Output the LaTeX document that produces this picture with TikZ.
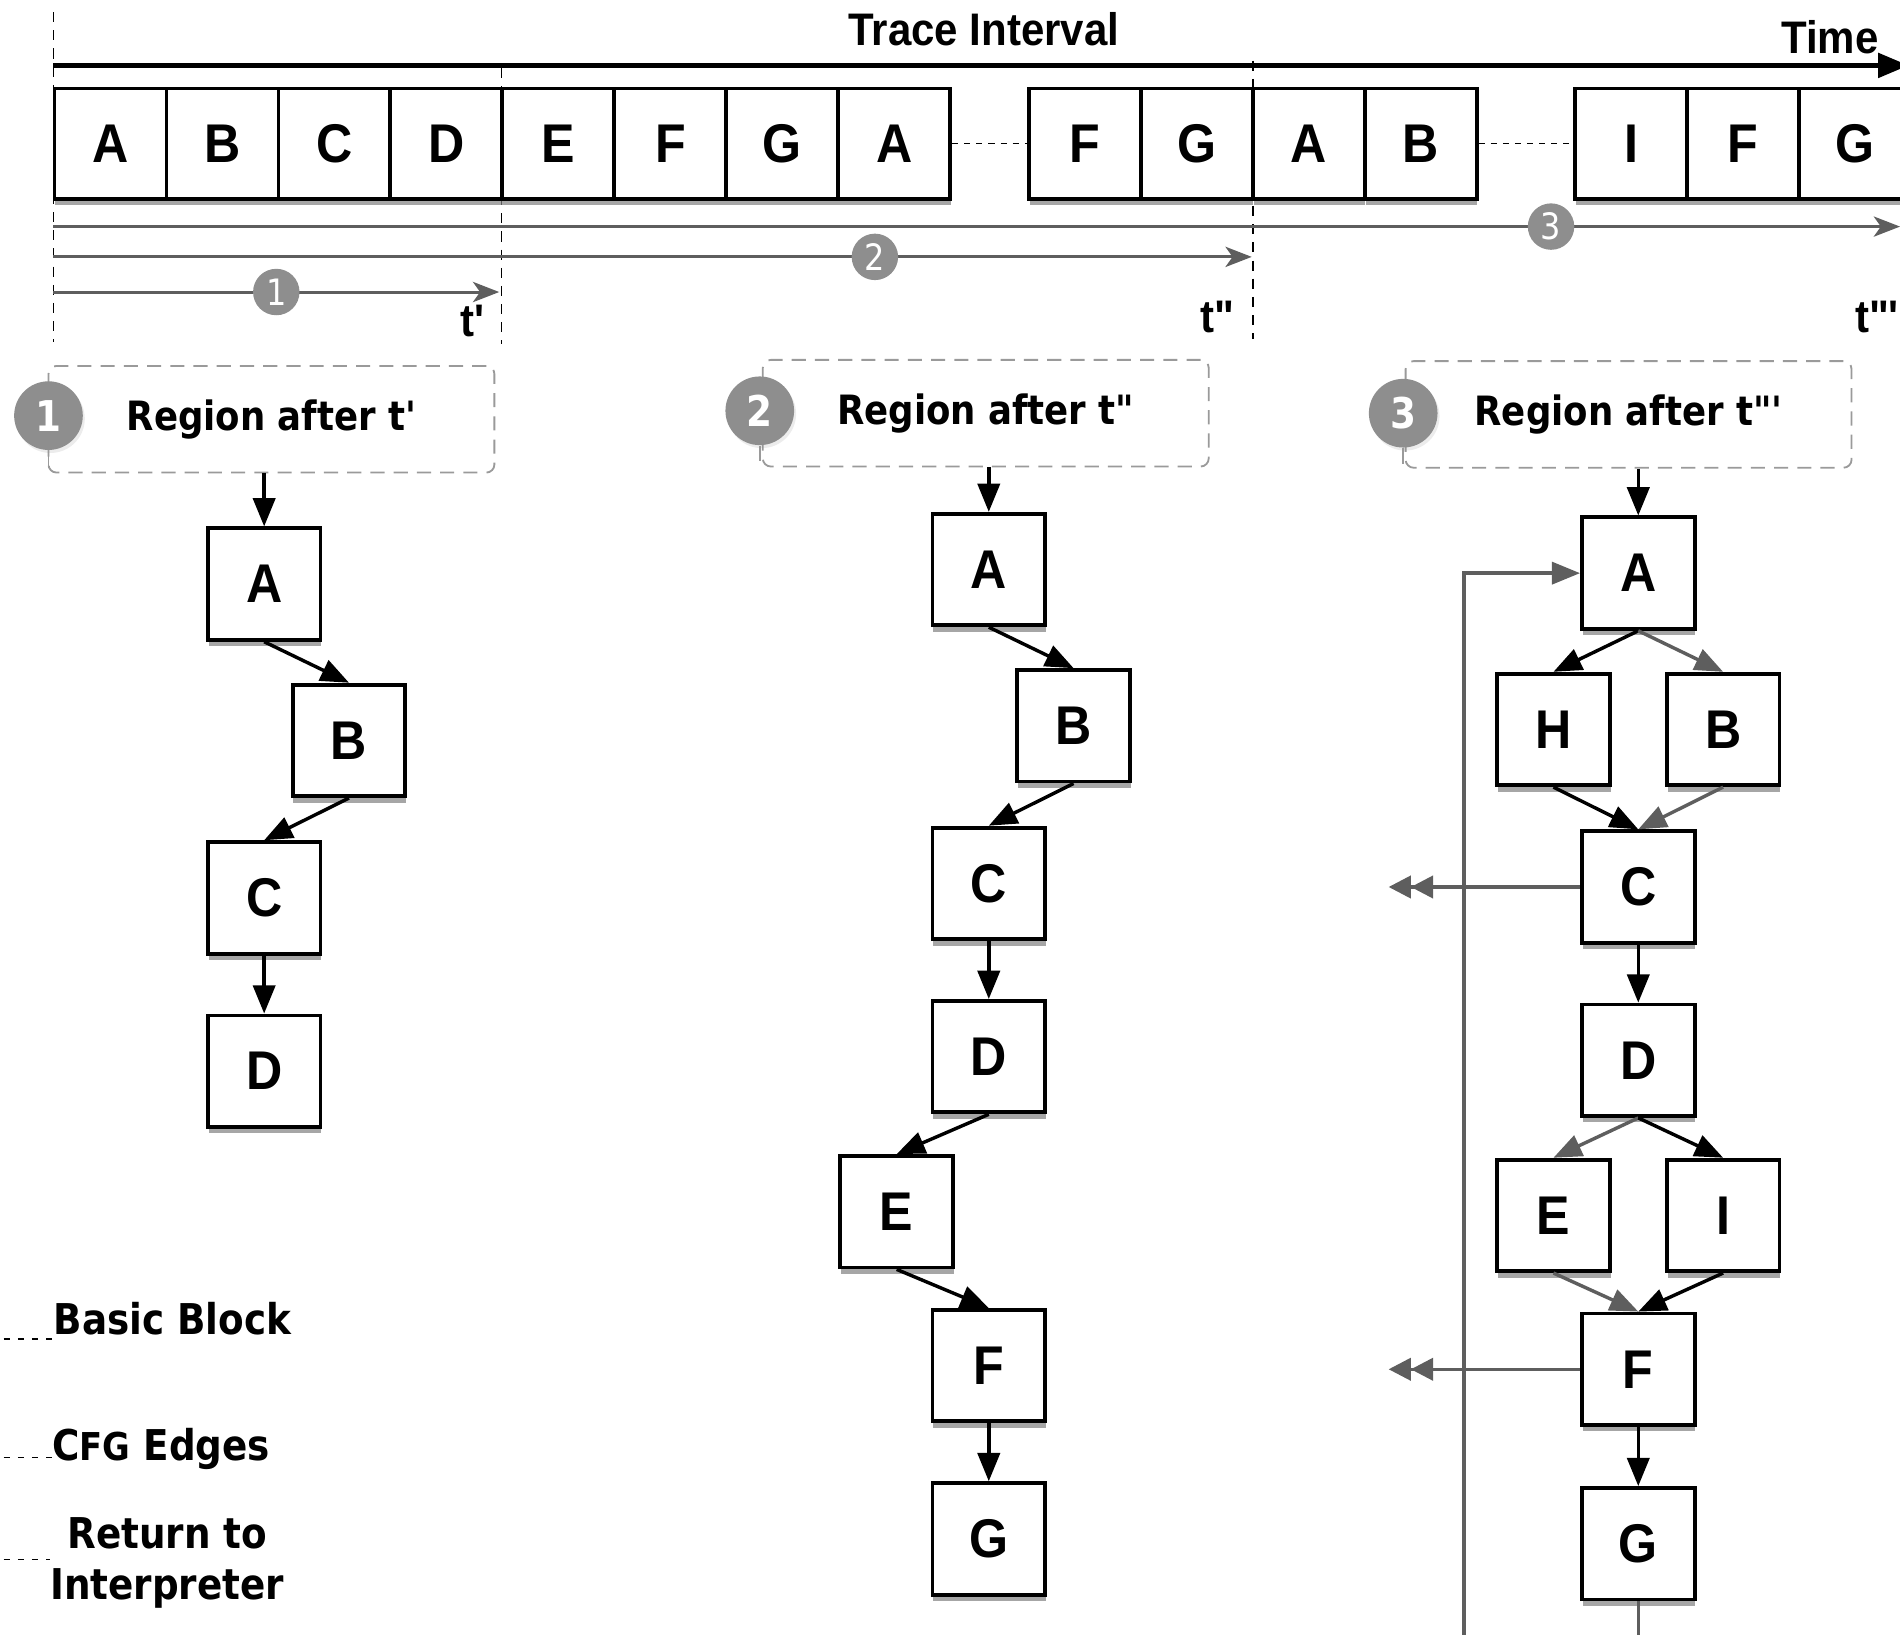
\documentclass[tikz,border=0pt]{standalone}
\usepackage{fontspec}
\usetikzlibrary{arrows.meta,shadows}
\newfontfamily\hvfont[FakeStretch=0.92]{Liberation Sans}
\newfontfamily\lgfont[FakeStretch=0.88]{DejaVu Sans}
\newcommand\sq{\char"0027\relax}
\newcommand\dq{\char"0022\relax}
\definecolor{badgegray}{HTML}{8E8E8E}
\definecolor{edgegray}{HTML}{5E5E5E}
\definecolor{boxgray}{HTML}{9A9A9A}
\begin{document}
\begin{tikzpicture}[x=0.6pt,y=-0.6pt,
  blk/.style={draw=black, line width=1.9pt, fill=white, minimum width=55.8pt, minimum height=55.2pt,
    inner sep=0pt, font=\hvfont\bfseries\fontsize{27}{27}\selectfont,
    drop shadow={shadow xshift=0.4pt, shadow yshift=-3.2pt, opacity=0.7}},
  cell/.style={blk, minimum width=55.4pt, minimum height=54.6pt},
  cfg/.style={line width=1.7pt, draw=black, -{Triangle[length=14pt,width=11pt]}},
  gcfg/.style={line width=1.7pt, draw=edgegray, -{Triangle[length=14pt,width=11pt,fill=edgegray]}},
  retarrow/.style={line width=1.7pt, draw=edgegray, -{Triangle[length=11pt,width=11pt,fill=edgegray] Triangle[length=11pt,width=11pt,fill=edgegray]}},
  timearrow/.style={line width=2.1pt, draw=black, -{Triangle[length=15pt,width=12pt]}},
  ivarrow/.style={line width=1.5pt, draw=edgegray, -{Stealth[length=13pt,width=10pt,inset=3.5pt,fill=edgegray]}},
  vdash/.style={line width=0.7pt, draw=black, dash pattern=on 5pt off 4pt},
  dotline/.style={line width=0.7pt, draw=black, dash pattern=on 3pt off 3pt},
  legdash/.style={line width=0.6pt, draw=black, dash pattern=on 3pt off 4pt},
  ibadge/.style={circle, fill=badgegray, text=white, minimum size=23pt, inner sep=0pt,
    font=\lgfont\fontsize{18}{18}\selectfont},
  rbadge/.style={circle, fill=badgegray, text=white, minimum size=34pt, inner sep=0pt,
    font=\lgfont\bfseries\fontsize{21}{21}\selectfont,
    drop shadow={shadow xshift=1pt, shadow yshift=-1.5pt, opacity=0.15}},
  regbox/.style={draw=boxgray, line width=0.9pt, dash pattern=on 7pt off 4.5pt, rounded corners=4pt,
    minimum width=220.8pt, minimum height=52.8pt, inner sep=0pt,
    font=\lgfont\bfseries\fontsize{20}{20}\selectfont},
  hvlabel/.style={inner sep=0pt, font=\hvfont\bfseries\fontsize{22.6}{22.6}\selectfont},
  leglabel/.style={inner sep=0pt, align=center, font=\lgfont\bfseries\fontsize{21}{25}\selectfont}
]
\useasboundingbox (0,0) rectangle (1568,1349);

% ---------- timeline ----------
\node[hvlabel] (ti) at (812,24) {Trace Interval};
\node[hvlabel] (tm) at (1510,31) {Time};
\coordinate (tal) at (44,54);
\coordinate (tar) at (1575,54);
\draw[timearrow] (tal) -- (tar);

% dashed time markers
\coordinate (v0t) at (44,10);   \coordinate (v0b) at (44,282);
\coordinate (v1t) at (414,56);  \coordinate (v1b) at (414,284);
\coordinate (v2t) at (1034,50); \coordinate (v2b) at (1034,280);
\draw[vdash] (v0t) -- (v0b);
\draw[vdash] (v1t) -- (v1b);
\draw[vdash] (v2t) -- (v2b);

% trace cells
\foreach \l [count=\i] in {A,B,C,D,E,F,G,A}
  \node[cell] (t\i) at ({91.2+92.4*(\i-1)},118.5) {\l};
\foreach \l [count=\i] in {F,G,A,B}
  \node[cell] (u\i) at ({895.2+92.4*(\i-1)},118.5) {\l};
\foreach \l [count=\i] in {I,F,G}
  \node[cell] (w\i) at ({1346.2+92.4*(\i-1)},118.5) {\l};
\draw[dotline] (t8.east) -- (u1.west);
\draw[dotline] (u4.east) -- (w1.west);

% interval arrows
\coordinate (s3) at (44,187);  \coordinate (e3) at (1568,187);
\coordinate (s2) at (44,212);  \coordinate (e2) at (1033,212);
\coordinate (s1) at (44,241);  \coordinate (e1) at (412,241);
\draw[ivarrow] (s3) -- (e3);
\draw[ivarrow] (s2) -- (e2);
\draw[ivarrow] (s1) -- (e1);
\node[ibadge] (ib3) at (1280,187) {3};
\node[ibadge] (ib2) at (722,212) {2};
\node[ibadge] (ib1) at (228,241) {1};
\node[hvlabel] (tp1) at (390,265) {t\sq};
\node[hvlabel] (tp2) at (1005,262) {t\dq};
\node[hvlabel] (tp3) at (1549,262) {t\dq\sq};

% ---------- regions ----------
\node[regbox] (r1) at (224,346) {Region after t\sq};
\node[regbox] (r2) at (813.5,341) {Region after t\dq};
\node[regbox] (r3) at (1344,342) {Region after t\dq\sq};
\node[rbadge] (rb1) at (40,343) {1};
\node[rbadge] (rb2) at (627,339) {2};
\node[rbadge] (rb3) at (1158,341) {3};
\draw[boxgray, line width=0.8pt] (rb1.south) -- ++(0,13);
\draw[boxgray, line width=0.8pt] (rb2.south) -- ++(0,13);
\draw[boxgray, line width=0.8pt] (rb3.south) -- ++(0,13);

% ---------- column 1 ----------
\node[blk] (a1) at (218,482) {A};
\node[blk] (b1) at (288,611) {B};
\node[blk] (c1) at (218,741) {C};
\node[blk] (d1) at (218,884) {D};
\draw[cfg] (r1.south -| a1.north) -- (a1.north);
\draw[cfg] (a1.south) -- (b1.north);
\draw[cfg] (b1.south) -- (c1.north);
\draw[cfg] (c1.south) -- (d1.north);

% ---------- column 2 ----------
\node[blk] (a2) at (816,470) {A};
\node[blk] (b2) at (886,599) {B};
\node[blk] (c2) at (816,729) {C};
\node[blk] (d2) at (816,872) {D};
\node[blk] (e2) at (740,1000) {E};
\node[blk] (f2) at (816,1127) {F};
\node[blk] (g2) at (816,1270) {G};
\draw[cfg] (r2.south -| a2.north) -- (a2.north);
\draw[cfg] (a2.south) -- (b2.north);
\draw[cfg] (b2.south) -- (c2.north);
\draw[cfg] (c2.south) -- (d2.north);
\draw[cfg] (d2.south) -- (e2.north);
\draw[cfg] (e2.south) -- (f2.north);
\draw[cfg] (f2.south) -- (g2.north);

% ---------- column 3 ----------
\node[blk] (a3) at (1352,473) {A};
\node[blk] (h3) at (1282,602) {H};
\node[blk] (b3) at (1422,602) {B};
\node[blk] (c3) at (1352,732) {C};
\node[blk] (d3) at (1352,875) {D};
\node[blk] (e3) at (1282,1003) {E};
\node[blk] (i3) at (1422,1003) {I};
\node[blk] (f3) at (1352,1130) {F};
\node[blk] (g3) at (1352,1274) {G};

\coordinate (loopb) at (1208,1355);
\coordinate (gbot) at (1352,1355);
\coordinate (retx) at (1146,0);
\draw[gcfg] (loopb) |- (a3.west);
\draw[line width=1.7pt, draw=edgegray] (g3.south) -- (gbot);
\draw[retarrow] (c3.west) -- (c3.west -| retx);
\draw[retarrow] (f3.west) -- (f3.west -| retx);

\draw[cfg] (r3.south -| a3.north) -- (a3.north);
\draw[cfg] (a3.south) -- (h3.north);
\draw[gcfg] (a3.south) -- (b3.north);
\draw[cfg] (h3.south) -- (c3.north);
\draw[gcfg] (b3.south) -- (c3.north);
\draw[cfg] (c3.south) -- (d3.north);
\draw[gcfg] (d3.south) -- (e3.north);
\draw[cfg] (d3.south) -- (i3.north);
\draw[gcfg] (e3.south) -- (f3.north);
\draw[cfg] (i3.south) -- (f3.north);
\draw[cfg] (f3.south) -- (g3.north);

% ---------- legend ----------
\node[leglabel, anchor=base west] (lg1) at (44,1101) {Basic Block};
\node[leglabel, anchor=base west] (lg2) at (43,1205) {C{\fontsize{19}{19}\selectfont FG} Edges};
\node[leglabel] (lg3) at (138,1290) {Return to\\Interpreter};
\coordinate (ld1) at (3,1105);
\coordinate (ld2) at (3,1203);
\coordinate (ld3) at (3,1287);
\draw[legdash] (ld1) -- (ld1 -| lg1.west);
\draw[legdash] (ld2) -- (ld2 -| lg2.west);
\draw[legdash] (ld3) -- (ld3 -| lg3.west);
\end{tikzpicture}
\end{document}
